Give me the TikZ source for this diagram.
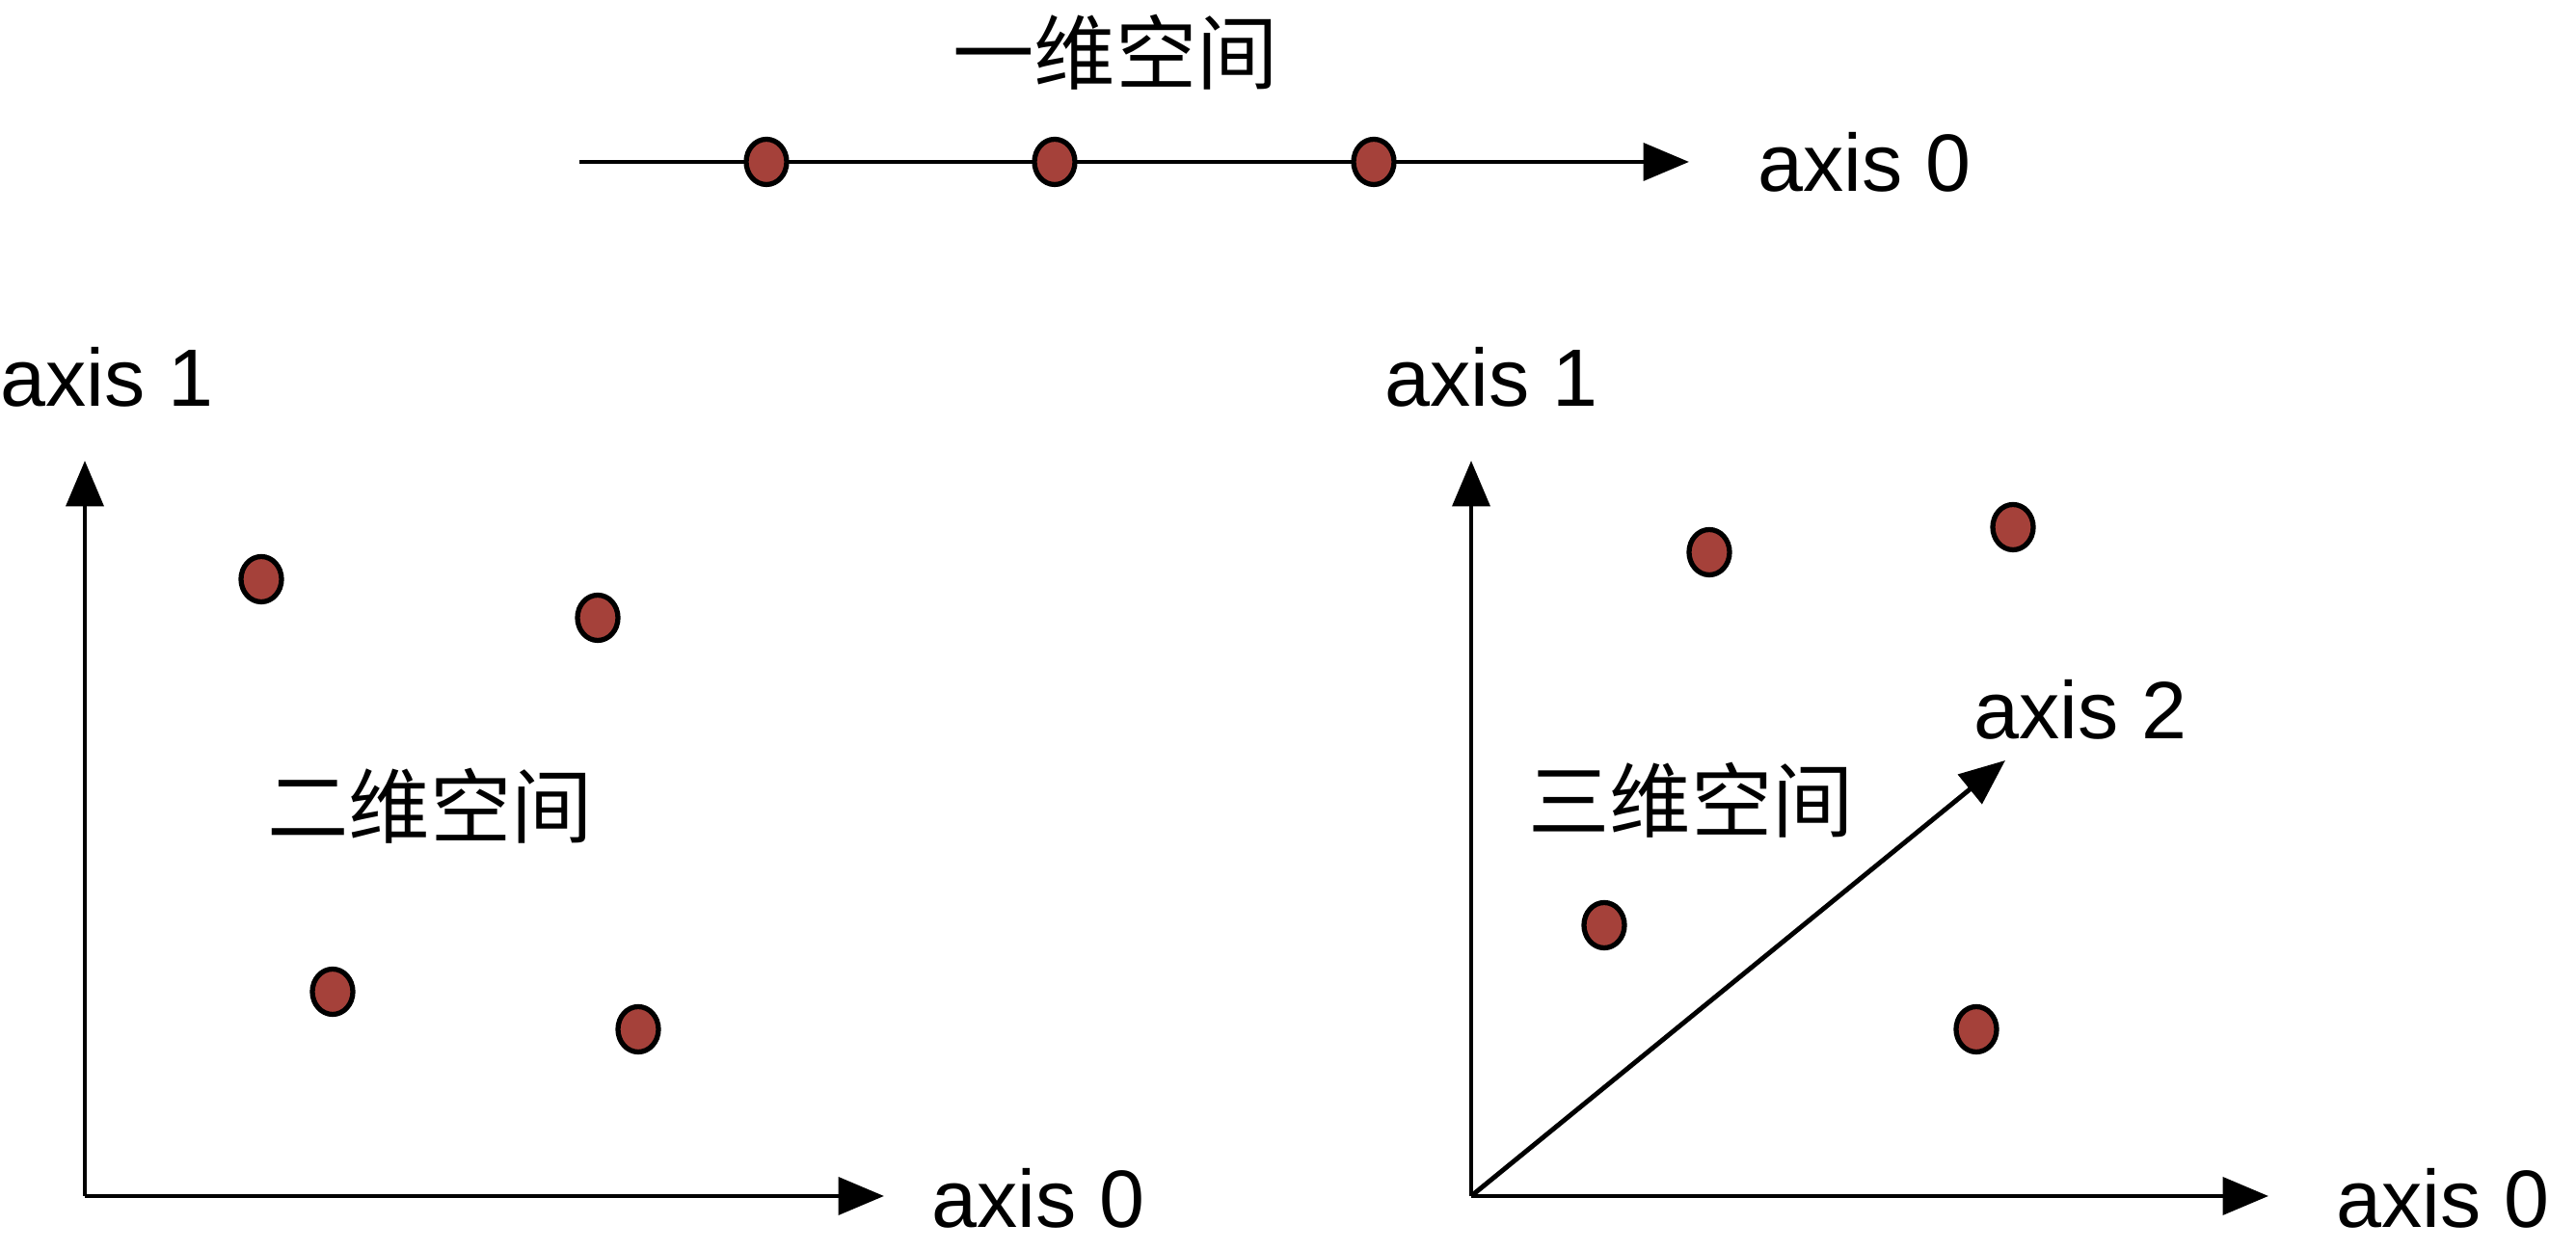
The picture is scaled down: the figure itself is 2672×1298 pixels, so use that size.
\documentclass[tikz,border=0pt]{standalone}
\usepackage{fontspec}
\setmainfont{Liberation Sans}
\newfontfamily\cjk{Noto Sans CJK SC}
\usetikzlibrary{arrows.meta,shapes.geometric}
\definecolor{dotred}{RGB}{165,65,58}
\begin{document}
\begin{tikzpicture}[x=0.01cm,y=0.01cm,
  axisline/.style={line width=1.4pt, -{Triangle[length=13.5pt,width=11pt]}},
  dot/.style={ellipse, draw=black, line width=1.5pt, fill=dotred, minimum width=0.42cm, minimum height=0.47cm, inner sep=0pt},
  lbl/.style={font=\fontsize{24}{29}\selectfont, inner sep=0pt, anchor=west},
  cjklbl/.style={font=\fontsize{24}{29}\selectfont\cjk, inner sep=0pt}]
\useasboundingbox (0,0) rectangle (2672,1298);

% ---- one-dimensional ----
\coordinate (t0) at (601,1130);
\coordinate (t1) at (1752,1130);
\draw[axisline] (t0) -- (t1);
\node[dot] (a1) at (795,1130) {};
\node[dot] (a2) at (1094,1130) {};
\node[dot] (a3) at (1425,1130) {};
\node[cjklbl] (title1) at (1157,1244) {一维空间};
\node[lbl] (ax0top) at (1823,1130) {axis 0};

% ---- two-dimensional ----
\coordinate (o2) at (88,57);
\coordinate (y2) at (88,820);
\coordinate (x2) at (917,57);
\draw[axisline] (o2) -- (y2);
\draw[axisline] (o2) -- (x2);
\node[lbl] (ax1left) at (0,907) {axis 1};
\node[lbl] (ax0left) at (966,55) {axis 0};
\node[dot] (b1) at (271,697) {};
\node[dot] (b2) at (620,657) {};
\node[dot] (b3) at (345,269) {};
\node[dot] (b4) at (662,230) {};
\node[cjklbl] (title2) at (446,462) {二维空间};

% ---- three-dimensional ----
\coordinate (o3) at (1526,57);
\coordinate (y3) at (1526,820);
\coordinate (x3) at (2353,57);
\coordinate (z3) at (2080,509);
\draw[axisline] (o3) -- (y3);
\draw[axisline] (o3) -- (x3);
\draw[axisline] (o3) -- (z3);
\node[lbl] (ax1right) at (1436,907) {axis 1};
\node[lbl] (ax0right) at (2423,55) {axis 0};
\node[lbl] (ax2right) at (2047,562) {axis 2};
\node[dot] (c1) at (1773,725) {};
\node[dot] (c2) at (2088,751) {};
\node[dot] (c3) at (1664,338) {};
\node[dot] (c4) at (2050,230) {};
\node[cjklbl] (title3) at (1754,468) {三维空间};
\end{tikzpicture}
\end{document}
